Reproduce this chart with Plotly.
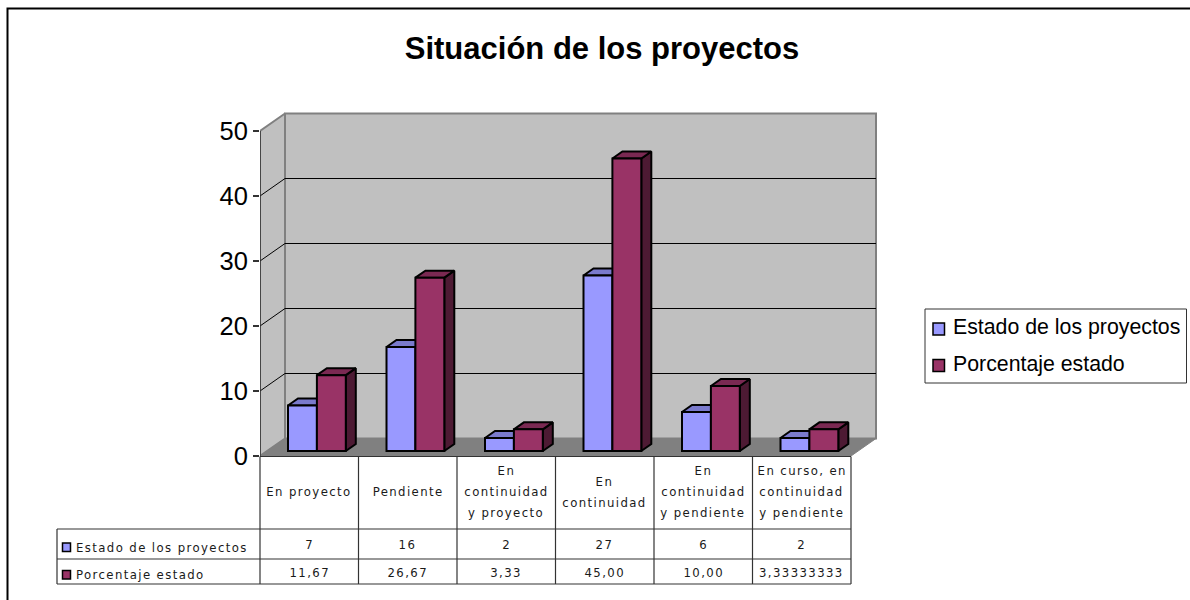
import plotly.graph_objects as go

categories = [
    ["En proyecto"],
    ["Pendiente"],
    ["En", "continuidad", "y proyecto"],
    ["En", "continuidad"],
    ["En", "continuidad", "y pendiente"],
    ["En curso, en", "continuidad", "y pendiente"],
]
series_names = ["Estado de los proyectos", "Porcentaje estado"]
estado = [7, 16, 2, 27, 6, 2]
porcentaje = [11.67, 26.67, 3.33, 45.00, 10.00, 3.33]
estado_labels = ["7", "16", "2", "27", "6", "2"]
porcentaje_labels = ["11,67", "26,67", "3,33", "45,00", "10,00", "3,33333333"]
y_ticks = [0, 10, 20, 30, 40, 50]

BLUE, BLUE_TOP, BLUE_SIDE = "#9999ff", "#7a7acc", "#4d4d80"
RED, RED_TOP, RED_SIDE = "#993366", "#7a2952", "#4d1a33"
WALL, FLOOR, EDGE = "#c0c0c0", "#808080", "#808080"

W, H = 1190, 600
L, R, T, B = 260, 880, 110, 456        # plot area in pixels
CAT_PX, UNIT_PX = 98.5, 6.5            # pixels per category / per y unit
x_lo, x_hi = -0.5, -0.5 + (R - L) / CAT_PX
y_lo, y_hi = 0, (B - T) / UNIT_PX
x_end = len(categories) - 0.5
WALL_DX, WALL_DY = 25 / CAT_PX, 17.5 / UNIT_PX
BAR_DX, BAR_DY = 10 / CAT_PX, 7 / UNIT_PX
BAR_W = 28.9 / CAT_PX
BAR_OFF = -21.25 / CAT_PX
BAR_BASE = 5 / UNIT_PX

def px(xp):  # paper x from pixel
    return (xp - L) / (R - L)
def py(yp):  # paper y from pixel
    return (B - yp) / (B - T)

fig = go.Figure()

def poly(xs, ys, fill, line, width=2):
    fig.add_trace(go.Scatter(x=xs, y=ys, mode="lines", fill="toself", fillcolor=fill,
                             line=dict(color=line, width=width), showlegend=False,
                             hoverinfo="skip", cliponaxis=False))

# walls and floor
poly([x_lo, x_lo + WALL_DX, x_lo + WALL_DX, x_lo, x_lo],
     [0, WALL_DY, 50 + WALL_DY, 50, 0], WALL, EDGE, 2)
poly([x_lo + WALL_DX, x_end + WALL_DX, x_end + WALL_DX, x_lo + WALL_DX, x_lo + WALL_DX],
     [WALL_DY, WALL_DY, 50 + WALL_DY, 50 + WALL_DY, WALL_DY], WALL, EDGE, 2)
poly([x_lo, x_end, x_end + WALL_DX, x_lo + WALL_DX, x_lo],
     [0, 0, WALL_DY, WALL_DY, 0], FLOOR, FLOOR, 1)

# gridlines
gx, gy = [], []
for t in y_ticks[1:-1]:
    gx += [x_lo, x_lo + WALL_DX, x_end + WALL_DX, None]
    gy += [t, t + WALL_DY, t + WALL_DY, None]
fig.add_trace(go.Scatter(x=gx, y=gy, mode="lines", line=dict(color="#000000", width=1),
                         showlegend=False, hoverinfo="skip"))
# value axis line
fig.add_trace(go.Scatter(x=[x_lo, x_lo], y=[0, 50], mode="lines", line=dict(color="#333333", width=1.5),
                         showlegend=False, hoverinfo="skip", cliponaxis=False))

# depth faces of the bars
def depth_faces(values, off, top_col, side_col):
    tx, ty, sx, sy = [], [], [], []
    for i, v in enumerate(values):
        x0, x1 = i + off, i + off + BAR_W
        y0, y1 = BAR_BASE, BAR_BASE + v
        tx += [x0, x1, x1 + BAR_DX, x0 + BAR_DX, x0, None]
        ty += [y1, y1, y1 + BAR_DY, y1 + BAR_DY, y1, None]
        sx += [x1, x1 + BAR_DX, x1 + BAR_DX, x1, x1, None]
        sy += [y0, y0 + BAR_DY, y1 + BAR_DY, y1, y0, None]
    poly(sx, sy, side_col, "#000000")
    poly(tx, ty, top_col, "#000000")

depth_faces(estado, BAR_OFF, BLUE_TOP, BLUE_SIDE)
depth_faces(porcentaje, BAR_OFF + BAR_W, RED_TOP, RED_SIDE)

# front faces, on an overlaid subplot so they sit above the depth faces
xs = list(range(len(categories)))
for name, vals, off, col in [(series_names[0], estado, BAR_OFF, BLUE),
                             (series_names[1], porcentaje, BAR_OFF + BAR_W, RED)]:
    fig.add_trace(go.Bar(x=xs, y=vals, base=BAR_BASE, width=BAR_W, offset=off, name=name,
                         showlegend=False, marker=dict(color=col, line=dict(color="#000000", width=2)),
                         xaxis="x2", yaxis="y2", hoverinfo="skip"))

# data table
TBL = dict(color="#333333", width=1.2)
shapes = []
def hline(x0, x1, yp):
    shapes.append(dict(type="line", xref="paper", yref="paper", x0=px(x0), x1=px(x1), y0=py(yp), y1=py(yp), line=TBL))
def vline(xp, y0, y1):
    shapes.append(dict(type="line", xref="paper", yref="paper", x0=px(xp), x1=px(xp), y0=py(y0), y1=py(y1), line=TBL))
ROWS = [456.5, 529, 559, 584]
hline(L, L + CAT_PX * 6, ROWS[0])
for r in ROWS[1:]:
    hline(57, L + CAT_PX * 6, r)
vline(57, ROWS[1], ROWS[3])
for i in range(7):
    vline(L + CAT_PX * i, ROWS[0], ROWS[3])
# outer frame of the chart
shapes.append(dict(type="rect", xref="paper", yref="paper", x0=px(7.5), x1=px(1300), y0=py(8.5), y1=py(700),
                   line=dict(color="#000000", width=2)))
def swatch(x0, x1, y0, y1, col):
    shapes.append(dict(type="rect", xref="paper", yref="paper", x0=px(x0), x1=px(x1), y0=py(y0), y1=py(y1),
                       fillcolor=col, line=dict(color="#000000", width=1.5)))
# row-key swatches in the table
swatch(62.5, 70.5, 543, 551.5, BLUE)
swatch(62.5, 70.5, 570.5, 579, RED)
# legend box and its keys
shapes.append(dict(type="rect", xref="paper", yref="paper", x0=px(925), x1=px(1186.5), y0=py(309), y1=py(383),
                   fillcolor="#ffffff", line=dict(color="#333333", width=1)))
swatch(933, 944.5, 323, 335, BLUE)
swatch(933, 944.5, 359.5, 371.5, RED)

annos = []
TXT = dict(family="DejaVu Sans Condensed", size=13, color="#1a1a1a")
def cell(text, xv, yp, xref="x", anchor="center"):
    annos.append(dict(text=text, x=xv, y=py(yp), xref=xref, yref="paper", showarrow=False,
                      xanchor=anchor, align=anchor, yanchor="middle", font=TXT))
LINE_PX = 21
for i, lines in enumerate(categories):
    mid = (ROWS[0] + ROWS[1]) / 2 - 1 - (len(lines) - 1) * LINE_PX / 2
    for j, line in enumerate(lines):
        cell(line, i, mid + j * LINE_PX)
    cell(estado_labels[i], i, 544)
    cell(porcentaje_labels[i], i, 572)
cell(series_names[0], px(74), 547, "paper", "left")
cell(series_names[1], px(74), 574, "paper", "left")
for name, yp in zip(series_names, [327, 364]):
    annos.append(dict(text=name, x=px(951), y=py(yp), xref="paper", yref="paper", showarrow=False,
                      xanchor="left", align="left", yanchor="middle",
                      font=dict(family="Liberation Sans", size=21.3, color="#000000")))

fig.update_layout(
    width=W, height=H, autosize=False, showlegend=False,
    margin=dict(l=L, r=W - R, t=T, b=H - B, pad=0),
    paper_bgcolor="#ffffff", plot_bgcolor="rgba(0,0,0,0)",
    title=dict(text="<b>Situación de los proyectos</b>", x=602 / W, xanchor="center", y=1 - 48 / H, yanchor="middle",
               font=dict(family="Liberation Sans", size=31, color="#000000")),
    barmode="overlay",
    xaxis=dict(range=[x_lo, x_hi], visible=False, fixedrange=True),
    yaxis=dict(range=[y_lo, y_hi], tickvals=y_ticks, ticks="outside", ticklen=6, tickwidth=1.5, tickcolor="#333333",
               showgrid=False, zeroline=False, showline=False, ticklabelstandoff=0,
               tickfont=dict(family="Liberation Sans", size=25.5, color="#000000"), fixedrange=True),
    xaxis2=dict(range=[x_lo, x_hi], overlaying="x", visible=False, fixedrange=True),
    yaxis2=dict(range=[y_lo, y_hi], overlaying="y", visible=False, fixedrange=True),
    shapes=shapes, annotations=annos,
)

post = """
document.body.style.margin='0';
document.querySelectorAll('.annotation-text').forEach(function(t){
  if ((t.style.fontFamily||'').indexOf('Condensed')>=0) t.style.letterSpacing='1.4px';
});
"""
fig.write_html("out.html", post_script=post, config={"displayModeBar": False})
